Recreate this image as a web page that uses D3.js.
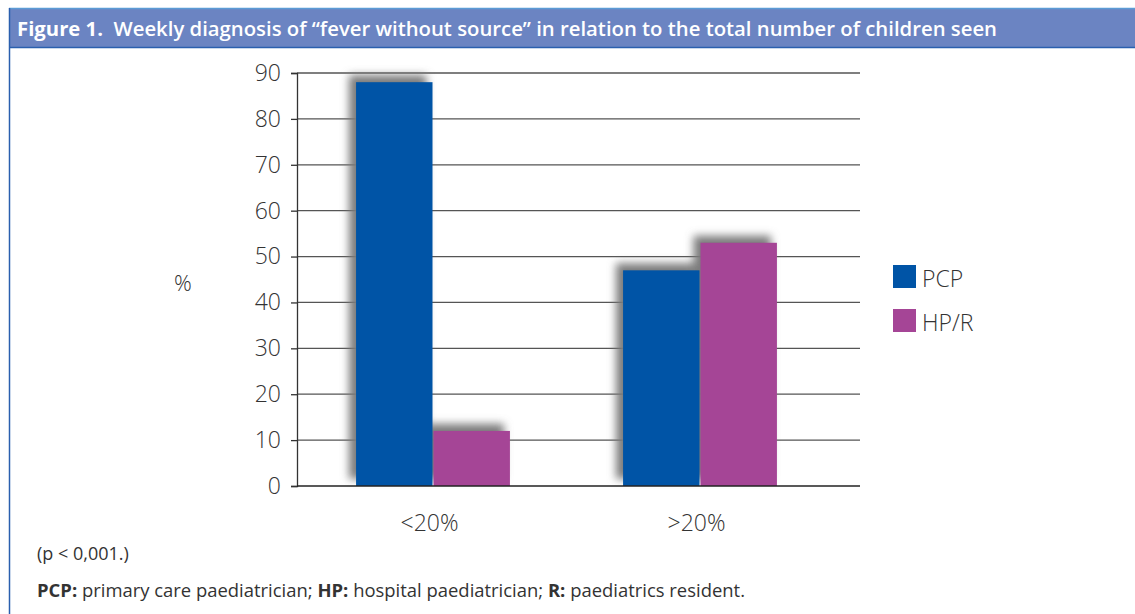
<!DOCTYPE html>
<html>
<head>
<meta charset="utf-8">
<script src="https://cdn.jsdelivr.net/npm/d3@7"></script>
<style>
  body { margin: 0; background: #fff; }
  svg { display: block; }
</style>
</head>
<body>
<div class="canvas"></div>
<script>
const categories = ["<20%", ">20%"];
const seriesNames = ["PCP", "HP/R"];
const pcpValues = [88, 47];
const hprValues = [12, 53];
const yTicks = [0, 10, 20, 30, 40, 50, 60, 70, 80, 90];
const colors = ["#0054a6", "#a54596"];

const width = 1135;
const height = 614;
const axisLeft = 297;
const gridRight = 860;
const yTop = 73;
const yBottom = 486;

const svg = d3.select(".canvas").append("svg")
  .attr("width", width)
  .attr("height", height);

// blur for the bar shadows
const defs = svg.append("defs");
defs.append("filter").attr("id", "blur")
  .attr("x", "-50%").attr("y", "-50%")
  .attr("width", "200%").attr("height", "200%")
  .append("feGaussianBlur").attr("stdDeviation", 4);

// Frame + header
svg.append("rect").attr("x", 9).attr("y", 8)
  .attr("width", width - 9).attr("height", 40)
  .attr("fill", "#6b84c2");
svg.append("line").attr("x1", 9).attr("x2", width)
  .attr("y1", 8.5).attr("y2", 8.5)
  .attr("stroke", "#5b9bd5").attr("stroke-width", 1.5);
svg.append("line").attr("x1", 9).attr("x2", width)
  .attr("y1", 47.5).attr("y2", 47.5)
  .attr("stroke", "#2a5fae").attr("stroke-width", 1.5);
svg.append("line").attr("x1", 9.5).attr("x2", 9.5)
  .attr("y1", 8).attr("y2", height)
  .attr("stroke", "#2a5fae").attr("stroke-width", 1.5);

const title = svg.append("text")
  .attr("x", 17).attr("y", 36)
  .attr("fill", "#fff")
  .attr("font-family", "'Open Sans', sans-serif")
  .attr("font-size", 19)
  .attr("font-weight", 600)
  .attr("textLength", 980)
  .attr("lengthAdjust", "spacingAndGlyphs");
title.append("tspan").attr("font-weight", 700).text("Figure 1.");
title.append("tspan").text("\u00a0 Weekly diagnosis of \u201cfever without source\u201d in relation to the total number of children seen");

// Scales
const y = d3.scaleLinear().domain([0, 90]).range([yBottom, yTop]);
const x0 = d3.scaleBand().domain(categories)
  .range([300, 834]).paddingInner(0.42).paddingOuter(0.21);
const x1 = d3.scaleBand().domain(seriesNames)
  .range([0, x0.bandwidth()]).padding(0);
const color = d3.scaleOrdinal().domain(seriesNames).range(colors);

// Gridlines
svg.append("g")
  .selectAll("line")
  .data(yTicks.filter(d => d > 0))
  .join("line")
  .attr("x1", axisLeft).attr("x2", gridRight)
  .attr("y1", d => y(d)).attr("y2", d => y(d))
  .attr("stroke", "#555").attr("stroke-width", 1.3);

// Y axis
const yAxis = svg.append("g")
  .attr("transform", `translate(${axisLeft},0)`)
  .call(d3.axisLeft(y).tickValues(yTicks).tickSize(6).tickPadding(10));
yAxis.select(".domain").attr("stroke", "#333").attr("stroke-width", 1.3);
yAxis.selectAll(".tick line").attr("stroke", "#333").attr("stroke-width", 1.3);
yAxis.selectAll(".tick text")
  .attr("font-family", "'Open Sans', sans-serif")
  .attr("font-size", 23)
  .attr("fill", "#333")
  .attr("font-weight", 300);

svg.append("text")
  .attr("x", 183).attr("y", 291)
  .attr("text-anchor", "middle")
  .attr("font-family", "'Open Sans', sans-serif")
  .attr("font-size", 22)
  .attr("font-weight", 300)
  .attr("fill", "#333")
  .text("%");

// Bars
const rows = categories.map((c, i) => ({
  cat: c,
  values: [
    { key: "PCP", value: pcpValues[i] },
    { key: "HP/R", value: hprValues[i] }
  ]
}));

const shadowLayer = svg.append("g").attr("filter", "url(#blur)");
const barLayer = svg.append("g");

rows.forEach(r => {
  shadowLayer.selectAll(null)
    .data(r.values)
    .join("rect")
    .attr("x", d => x0(r.cat) + x1(d.key) - 7)
    .attr("y", d => y(d.value) - 7)
    .attr("width", x1.bandwidth())
    .attr("height", d => yBottom - y(d.value))
    .attr("fill", "#7a7a7a");

  barLayer.selectAll(null)
    .data(r.values)
    .join("rect")
    .attr("x", d => x0(r.cat) + x1(d.key))
    .attr("y", d => y(d.value))
    .attr("width", x1.bandwidth() - 1)
    .attr("height", d => yBottom - y(d.value))
    .attr("fill", d => color(d.key));
});

// X axis baseline
svg.append("line")
  .attr("x1", axisLeft).attr("x2", gridRight)
  .attr("y1", yBottom).attr("y2", yBottom)
  .attr("stroke", "#222").attr("stroke-width", 1.3);

svg.append("g")
  .selectAll("text")
  .data(categories)
  .join("text")
  .attr("x", d => x0(d) + x0.bandwidth() / 2 - 4)
  .attr("y", 531)
  .attr("text-anchor", "middle")
  .attr("font-family", "'Open Sans', sans-serif")
  .attr("font-size", 23)
  .attr("font-weight", 300)
  .attr("fill", "#333")
  .text(d => d);

// Legend
const legend = svg.append("g")
  .selectAll("g")
  .data(seriesNames)
  .join("g")
  .attr("transform", (d, i) => `translate(893,${265 + i * 44})`);
legend.append("rect")
  .attr("width", 23).attr("height", 23)
  .attr("fill", d => color(d));
legend.append("text")
  .attr("x", 29).attr("y", 22)
  .attr("font-family", "'Open Sans', sans-serif")
  .attr("font-size", 23)
  .attr("font-weight", 300)
  .attr("fill", "#333")
  .text(d => d);

// Notes
svg.append("text")
  .attr("x", 37).attr("y", 560)
  .attr("font-family", "'Open Sans', sans-serif")
  .attr("font-size", 18)
  .attr("fill", "#333")
  .text("(p < 0,001.)");

const note = svg.append("text")
  .attr("x", 37).attr("y", 597)
  .attr("font-family", "'Open Sans', sans-serif")
  .attr("font-size", 18)
  .attr("fill", "#333")
  .attr("textLength", 708)
  .attr("lengthAdjust", "spacingAndGlyphs");
note.append("tspan").attr("font-weight", 700).text("PCP:");
note.append("tspan").text(" primary care paediatrician; ");
note.append("tspan").attr("font-weight", 700).text("HP:");
note.append("tspan").text(" hospital paediatrician; ");
note.append("tspan").attr("font-weight", 700).text("R:");
note.append("tspan").text(" paediatrics resident.");
</script>
</body>
</html>
